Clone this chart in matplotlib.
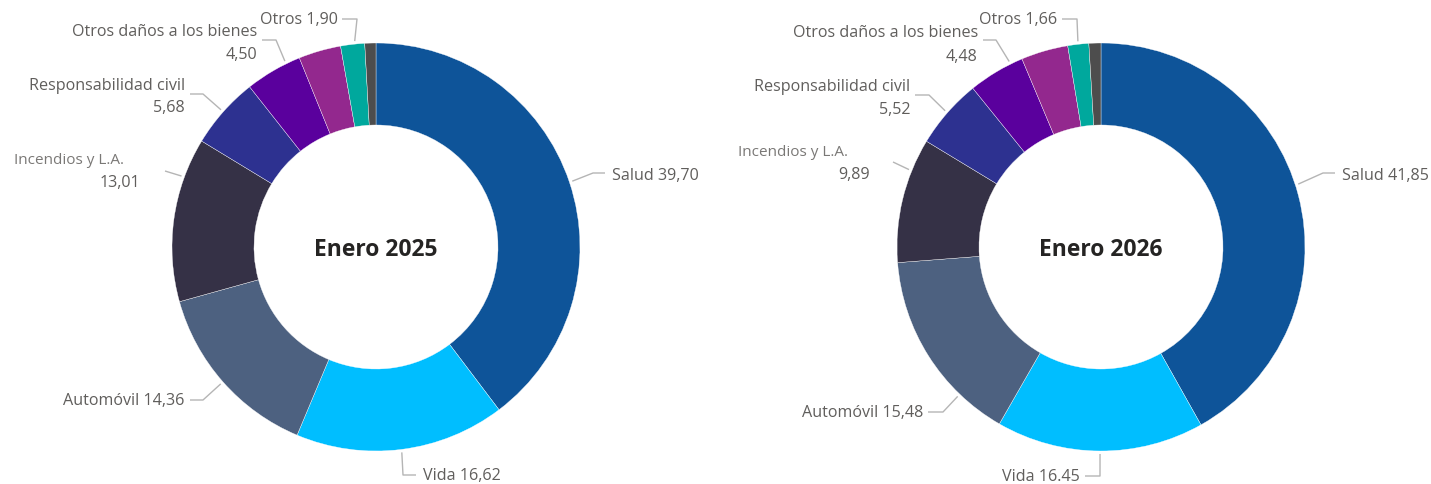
import matplotlib
matplotlib.use("Agg")
import matplotlib.pyplot as plt
import numpy as np

# ---------------- data ----------------
categories = ["Salud", "Vida", "Automóvil", "Incendios y L.A.", "Responsabilidad civil",
              "Otros daños a los bienes", "", "Otros", ""]
values_2025 = [39.70, 16.62, 14.36, 13.01, 5.68, 4.50, 3.35, 1.90, 0.88]
values_2026 = [41.85, 16.45, 15.48, 9.89, 5.52, 4.48, 3.72, 1.66, 0.95]
value_text_2025 = ["39,70", "16,62", "14,36", "13,01", "5,68", "4,50", "", "1,90", ""]
value_text_2026 = ["41,85", "16.45", "15,48", "9,89", "5,52", "4,48", "", "1,66", ""]
titles = ["Enero 2025", "Enero 2026"]

colors = ["#0E5499", "#00BEFF", "#4D6180", "#353146", "#2D3190",
          "#5A009D", "#93288E", "#00A89D", "#4D4D4D"]

# ---------------- layout (image pixel coords, y downward) ----------------
W, H = 1431, 485
R_OUT, R_IN = 204, 122
centers = [(376, 248), (1101, 248)]
TXT = "#605E5C"
LINE = "#B5B5B5"

# per label: index -> (frac along wedge, [elbow, end], [(text, x, y, ha), ...])
layout_2025 = {
    0: (0.5, [(593, 174), (605, 174)], [("{c} {v}", 612, 176, "left")]),
    1: (0.5, [(403, 476), (416, 476)], [("{c} {v}", 423, 476, "left")]),
    2: (0.5, [(203, 401), (190, 401)], [("{c} {v}", 184, 401, "right")]),
    3: (0.76, [(165, 172)], [("{c}", 124, 160, "right"), ("{v}", 140, 183, "right")]),
    4: (0.5, [(203, 95), (190, 95)], [("{c}", 185, 86, "right"), ("{v}", 185, 108, "right")]),
    5: (0.75, [(276, 41), (262, 41)], [("{c}", 257, 32, "right"), ("{v}", 257, 55, "right")]),
    7: (0.6, [(357, 20), (342, 20)], [("{c} {v}", 338, 20, "right")]),
}
layout_2026 = {
    0: (0.48, [(1323, 174), (1335, 174)], [("{c} {v}", 1342, 176, "left")]),
    1: (0.5, [(1100, 477), (1085, 477)], [("{c} {v}", 1080, 477, "right")]),
    2: (0.25, [(943, 413), (928, 413)], [("{c} {v}", 923, 413, "right")]),
    3: (0.74, [(893, 163)], [("{c}", 848, 153, "right"), ("{v}", 870, 175, "right")]),
    4: (0.5, [(929, 96), (915, 96)], [("{c}", 910, 87, "right"), ("{v}", 910, 110, "right")]),
    5: (0.78, [(996, 41), (983, 41)], [("{c}", 978, 33, "right"), ("{v}", 978, 57, "right")]),
    7: (0.5, [(1077, 20), (1062, 20)], [("{c} {v}", 1057, 20, "right")]),
}

plt.rcParams["font.family"] = ["Open Sans", "DejaVu Sans"]

fig = plt.figure(figsize=(W / 100, H / 100), dpi=100)
ax = fig.add_axes([0, 0, 1, 1])


def P(x, y):
    return x, H - y


for values, vtext, layout, (cx, cy), title in zip(
        [values_2025, values_2026], [value_text_2025, value_text_2026],
        [layout_2025, layout_2026], centers, titles):
    wedges, _ = ax.pie(values, colors=colors, startangle=90, counterclock=False,
                       radius=R_OUT, center=P(cx, cy),
                       wedgeprops=dict(width=R_OUT - R_IN, edgecolor="white", linewidth=0.25),
                       normalize=True)
    ax.text(*P(cx, cy + 2), title, ha="center", va="center", fontsize=16.5,
            fontweight="bold", color="#252423")
    for i, (frac, pts, texts) in layout.items():
        w = wedges[i]
        ang = np.deg2rad(w.theta2 - frac * (w.theta2 - w.theta1))
        ccx, ccy = P(cx, cy)
        ax0 = ccx + (R_OUT + 3) * np.cos(ang)
        ay0 = ccy + (R_OUT + 3) * np.sin(ang)
        xs = [ax0] + [p[0] for p in pts]
        ys = [ay0] + [H - p[1] for p in pts]
        ax.plot(xs, ys, color=LINE, lw=1.0, solid_capstyle="butt")
        for t, x, y, ha in texts:
            s = t.format(c=categories[i], v=vtext[i])
            small = (i == 3 and t == "{c}")
            col = "#7A7876" if small else TXT
            size = 11 if small else 11.6
            ax.text(*P(x, y), s, ha=ha, va="center", fontsize=size, color=col)

ax.set_xlim(0, W)
ax.set_ylim(0, H)
ax.set_aspect("equal")
ax.axis("off")

fig.savefig("out.png", dpi=100, facecolor="white")
